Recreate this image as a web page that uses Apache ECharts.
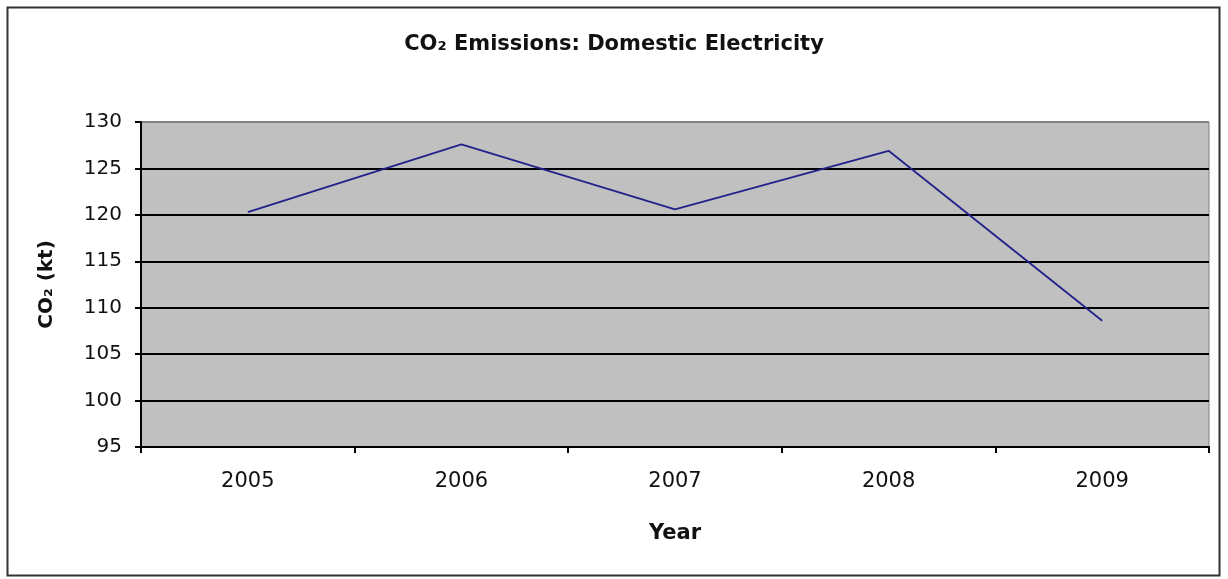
<!DOCTYPE html>
<html>
<head>
<meta charset="utf-8">
<script src="https://cdn.jsdelivr.net/npm/echarts@6/dist/echarts.min.js"></script>
<style>
  html, body { margin: 0; padding: 0; background: #fff; }
  #chart { width: 1228px; height: 579px; }
</style>
</head>
<body>
<div id="chart"></div>
<script>
// Domestic electricity CO2 emissions by year (kilotonnes)
const years = ['2005', '2006', '2007', '2008', '2009'];
const emissions = [120.3, 127.6, 120.6, 126.9, 108.6];
const yMin = 95;
const yMax = 130;
const yStep = 5;

const chart = echarts.init(document.getElementById('chart'), null, { renderer: 'canvas' });

chart.setOption({
  animation: false,
  backgroundColor: '#ffffff',
  title: {
    text: 'CO\u2082 Emissions: Domestic Electricity',
    left: 'center',
    top: 29,
    textStyle: {
      fontFamily: 'DejaVu Sans',
      fontWeight: 'bold',
      fontSize: 21,
      color: '#111'
    }
  },
  graphic: [{
    type: 'rect',
    shape: { x: 7.5, y: 7.5, width: 1212, height: 568 },
    style: { fill: 'none', stroke: '#333', lineWidth: 2 },
    silent: true,
    z: 100
  }],
  grid: {
    left: 141,
    right: 19,
    top: 122,
    bottom: 132,
    show: true,
    backgroundColor: '#c0c0c0',
    borderColor: '#808080',
    borderWidth: 1
  },
  xAxis: {
    type: 'category',
    data: years,
    boundaryGap: true,
    name: 'Year',
    nameLocation: 'middle',
    nameGap: 76,
    nameTextStyle: {
      fontFamily: 'DejaVu Sans',
      fontWeight: 'bold',
      fontSize: 21,
      color: '#111'
    },
    axisLine: { lineStyle: { color: '#000', width: 2 } },
    axisTick: { show: true, length: 6, inside: false, lineStyle: { color: '#000', width: 2 } },
    axisLabel: {
      margin: 24,
      fontFamily: 'DejaVu Sans',
      fontSize: 21,
      color: '#111'
    },
    splitLine: { show: false }
  },
  yAxis: {
    type: 'value',
    min: yMin,
    max: yMax,
    interval: yStep,
    name: 'CO\u2082 (kt)',
    nameLocation: 'middle',
    nameGap: 84,
    nameRotate: 90,
    nameTextStyle: {
      fontFamily: 'DejaVu Sans',
      fontWeight: 'bold',
      fontSize: 20,
      color: '#111'
    },
    axisLine: { show: true, lineStyle: { color: '#000', width: 2 } },
    axisTick: { show: true, length: 6, inside: false, lineStyle: { color: '#000', width: 2 } },
    axisLabel: {
      margin: 19,
      fontFamily: 'DejaVu Sans',
      fontSize: 20,
      color: '#111'
    },
    splitLine: {
      show: true,
      lineStyle: {
        color: ['#000', '#000', '#000', '#000', '#000', '#000', '#000', '#808080'],
        width: 2
      }
    }
  },
  series: [{
    type: 'line',
    data: emissions,
    showSymbol: false,
    lineStyle: { color: '#22228a', width: 1.8 },
    z: 3
  }]
});
</script>
</body>
</html>
